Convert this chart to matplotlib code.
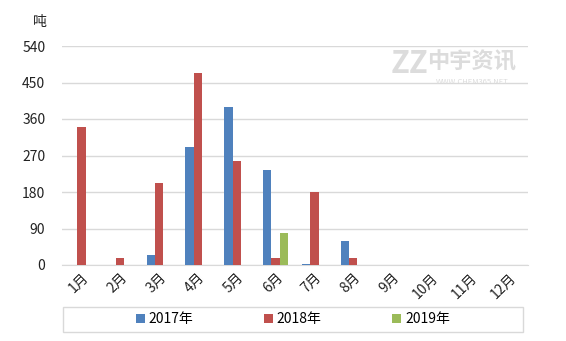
import matplotlib
matplotlib.use("Agg")
import matplotlib.pyplot as plt
from matplotlib.patches import Rectangle
import numpy as np

plt.rcParams['font.family'] = ['Noto Sans CJK SC', 'DejaVu Sans']

months = ['1月', '2月', '3月', '4月', '5月', '6月', '7月', '8月', '9月', '10月', '11月', '12月']
s2017 = [0, 0, 25, 290, 390, 234, 2, 59, 0, 0, 0, 0]
s2018 = [340, 18, 202, 473, 256, 17, 180, 18, 0, 0, 0, 0]
s2019 = [0, 0, 0, 0, 0, 79, 0, 0, 0, 0, 0, 0]
series_names = ['2017年', '2018年', '2019年']
colors = ['#4F81BD', '#C0504D', '#9BBB59']
yticks = [0, 90, 180, 270, 360, 450, 540]

fig = plt.figure(figsize=(5.66, 3.41), dpi=100)
ax = fig.add_axes([62/566, 1-265/341, (528-62)/566, (265-46)/341])

x = np.arange(len(months))
w = 0.215
for i, (vals, name, c) in enumerate(zip([s2017, s2018, s2019], series_names, colors)):
    ax.bar(x + (i-1)*w, vals, width=w, color=c, label=name, zorder=3)

ax.set_xlim(-0.5, 11.5)
ax.set_ylim(0, 540)
ax.set_yticks(yticks)
ax.set_yticklabels([str(v) for v in yticks], fontsize=10, color='#222222')
ax.yaxis.grid(True, color='#D9D9D9', linewidth=1, zorder=0)
ax.tick_params(axis='y', length=0, pad=12)
ax.tick_params(axis='x', length=0, pad=4)
ax.set_xticks(x)
ax.set_xticklabels(months, rotation=45, ha='right', rotation_mode='anchor', fontsize=10, color='#222222')
for s in ['top', 'right', 'left']:
    ax.spines[s].set_visible(False)
ax.spines['bottom'].set_color('#D9D9D9')

fig.text(40/566, 1-22/341, '吨', fontsize=10, color='#222222', ha='center', va='center')

# watermark
fig.text(410/566, 1-64/341, 'ZZ', fontsize=22, color='#DCDCDC', ha='center', va='center', fontweight='bold', style='italic')
fig.text(472/566, 1-62/341, '中宇资讯', fontsize=16, color='#DCDCDC', ha='center', va='center', fontweight='bold')
fig.text(472/566, 1-82/341, 'WWW.CHEM365.NET', fontsize=5.5, color='#DCDCDC', ha='center', va='center')

# legend box
fig.patches.append(Rectangle((63/566, 1-332/341), (523-63)/566, 25/341, transform=fig.transFigure,
                             facecolor='white', edgecolor='#D9D9D9', linewidth=1, zorder=1))
leg = fig.legend(loc='center', bbox_to_anchor=(293/566, 1-319.5/341),
                 ncol=3, frameon=False, fontsize=10, handlelength=0.6, handleheight=0.6,
                 handletextpad=0.3, columnspacing=5.1, borderaxespad=0)
leg.set_zorder(2)

fig.savefig('out.png', dpi=100)
